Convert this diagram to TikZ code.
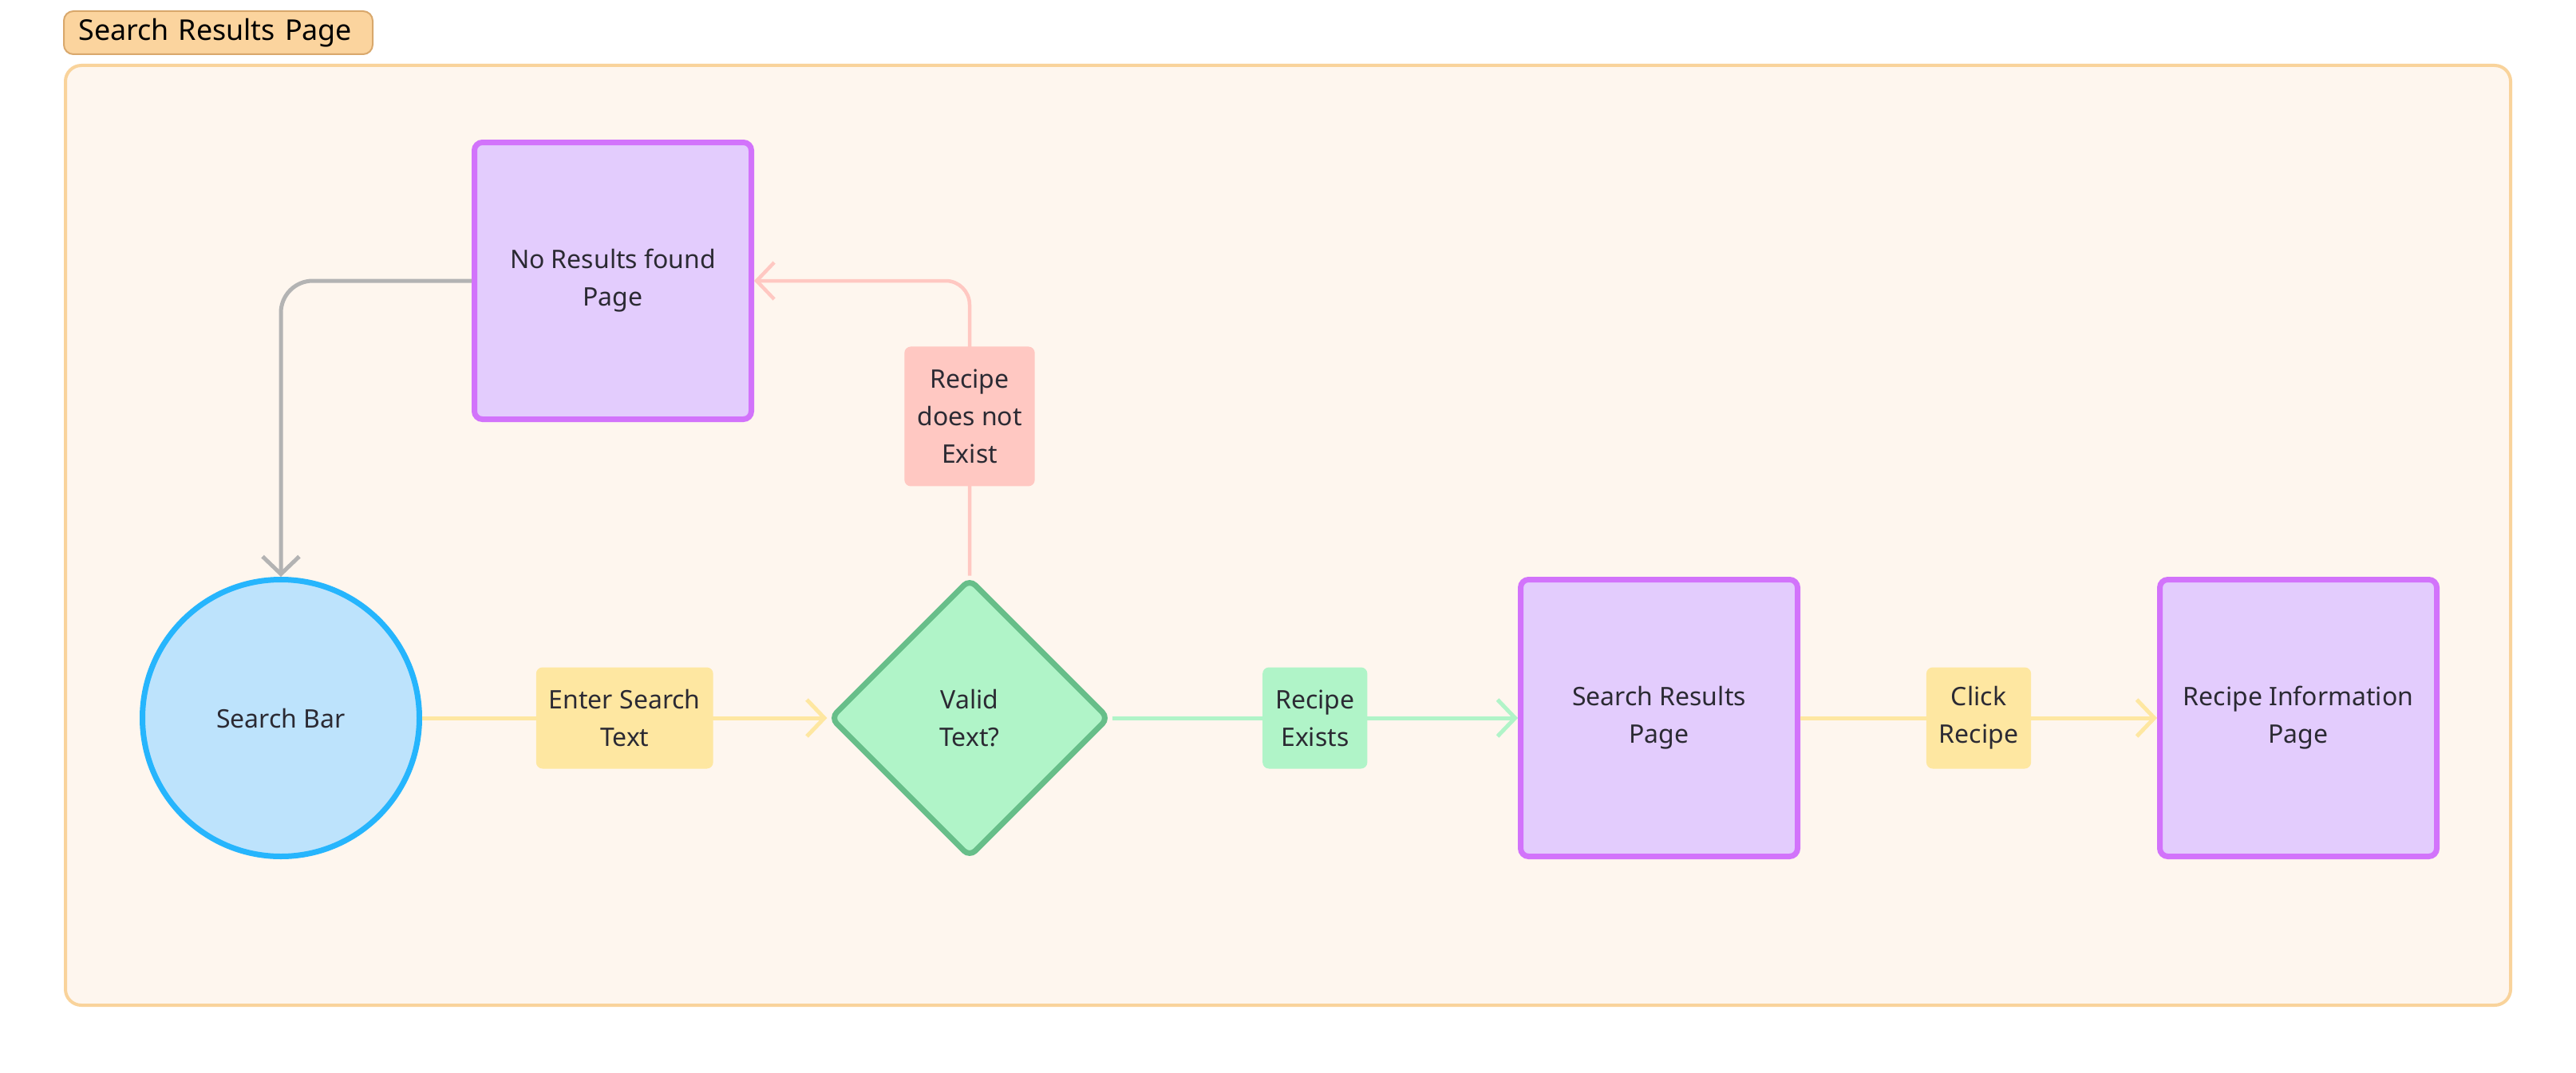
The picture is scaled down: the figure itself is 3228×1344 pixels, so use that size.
\documentclass[tikz,border=0pt]{standalone}
\usepackage{fontspec}
\setmainfont{Noto Sans}
\usetikzlibrary{shapes.geometric,arrows.meta}
\definecolor{framefill}{HTML}{FEF6EE}
\definecolor{framedraw}{HTML}{F9D39B}
\definecolor{tagfill}{HTML}{FBD49E}
\definecolor{tagdraw}{HTML}{D9A86C}
\definecolor{pagefill}{HTML}{E3CCFD}
\definecolor{pagedraw}{HTML}{D273FB}
\definecolor{circfill}{HTML}{BDE3FC}
\definecolor{circdraw}{HTML}{26B5FD}
\definecolor{decfill}{HTML}{B0F4C8}
\definecolor{decdraw}{HTML}{67BE89}
\definecolor{yel}{HTML}{FEE7A1}
\definecolor{grn}{HTML}{B0F4C8}
\definecolor{pnk}{HTML}{FFC8C2}
\definecolor{gry}{HTML}{B3B3B3}
\definecolor{txt}{HTML}{2B2A33}
\begin{document}
\begin{tikzpicture}[x=0.1mm,y=-0.1mm,
  every node/.style={text=txt, font=\fontsize{9.1pt}{13.4pt}\selectfont, align=center},
  pagebox/.style={draw=pagedraw, fill=pagefill, line width=0.7mm, rounded corners=1mm,
    minimum width=34.7mm, minimum height=34.7mm, inner sep=0pt},
  startc/.style={circle, draw=circdraw, fill=circfill, line width=0.7mm,
    minimum size=34.7mm, inner sep=0pt},
  decision/.style={diamond, draw=decdraw, fill=decfill, line width=0.7mm, rounded corners=1mm,
    minimum width=35mm, minimum height=35mm, inner sep=0pt},
  lab/.style={rounded corners=0.8mm, inner xsep=1.6mm, inner ysep=0pt, minimum height=12.7mm},
  ylab/.style={lab, fill=yel},
  glab/.style={lab, fill=grn},
  plab/.style={lab, fill=pnk, minimum height=17.5mm},
  tip/.style={-{Straight Barb[length=2.2mm, width=4.6mm]}},
  yedge/.style={draw=yel, line width=0.5mm, tip},
  gedge/.style={draw=grn, line width=0.5mm, tip},
  pedge/.style={draw=pnk, line width=0.45mm, tip},
  greyedge/.style={draw=gry, line width=0.5mm, tip}
]
\useasboundingbox (0,0) rectangle (3228,1344);
\fill[white] (0,0) rectangle (3228,1344);
% frame
\draw[draw=framedraw, fill=framefill, line width=0.4mm, rounded corners=2mm] (82,82) rectangle (3146,1260);
\node[draw=tagdraw, fill=tagfill, line width=0.2mm, rounded corners=1.2mm, text=black,
  font=\fontsize{10.2pt}{12pt}\selectfont, text width=35mm, align=left, inner xsep=1.85mm,
  inner ysep=0pt, minimum height=5.4mm] (title) at (273.5,41) {Search Results Page};
% nodes
\node[pagebox] (nr) at (768,352) {No Results found\\Page};
\node[startc] (sb) at (352,900) {Search Bar};
\node[decision] (valid) at (1215,900) {Valid\\Text?};
\node[pagebox] (sr) at (2079,900) {Search Results\\Page};
\node[pagebox] (ri) at (2880,900) {Recipe Information\\Page};
% edges
\draw[yedge] (sb) -- node[ylab]{Enter Search\\Text} (valid);
\draw[gedge] (valid) -- node[glab]{Recipe\\Exists} (sr);
\draw[yedge] (sr) -- node[ylab]{Click\\Recipe} (ri);
\draw[pedge, rounded corners=3mm] (valid.north) |- node[pos=0.27, plab]{Recipe\\does not\\Exist} (nr.east);
\draw[greyedge, rounded corners=4mm] (nr.west) -| (sb.north);
\end{tikzpicture}
\end{document}
